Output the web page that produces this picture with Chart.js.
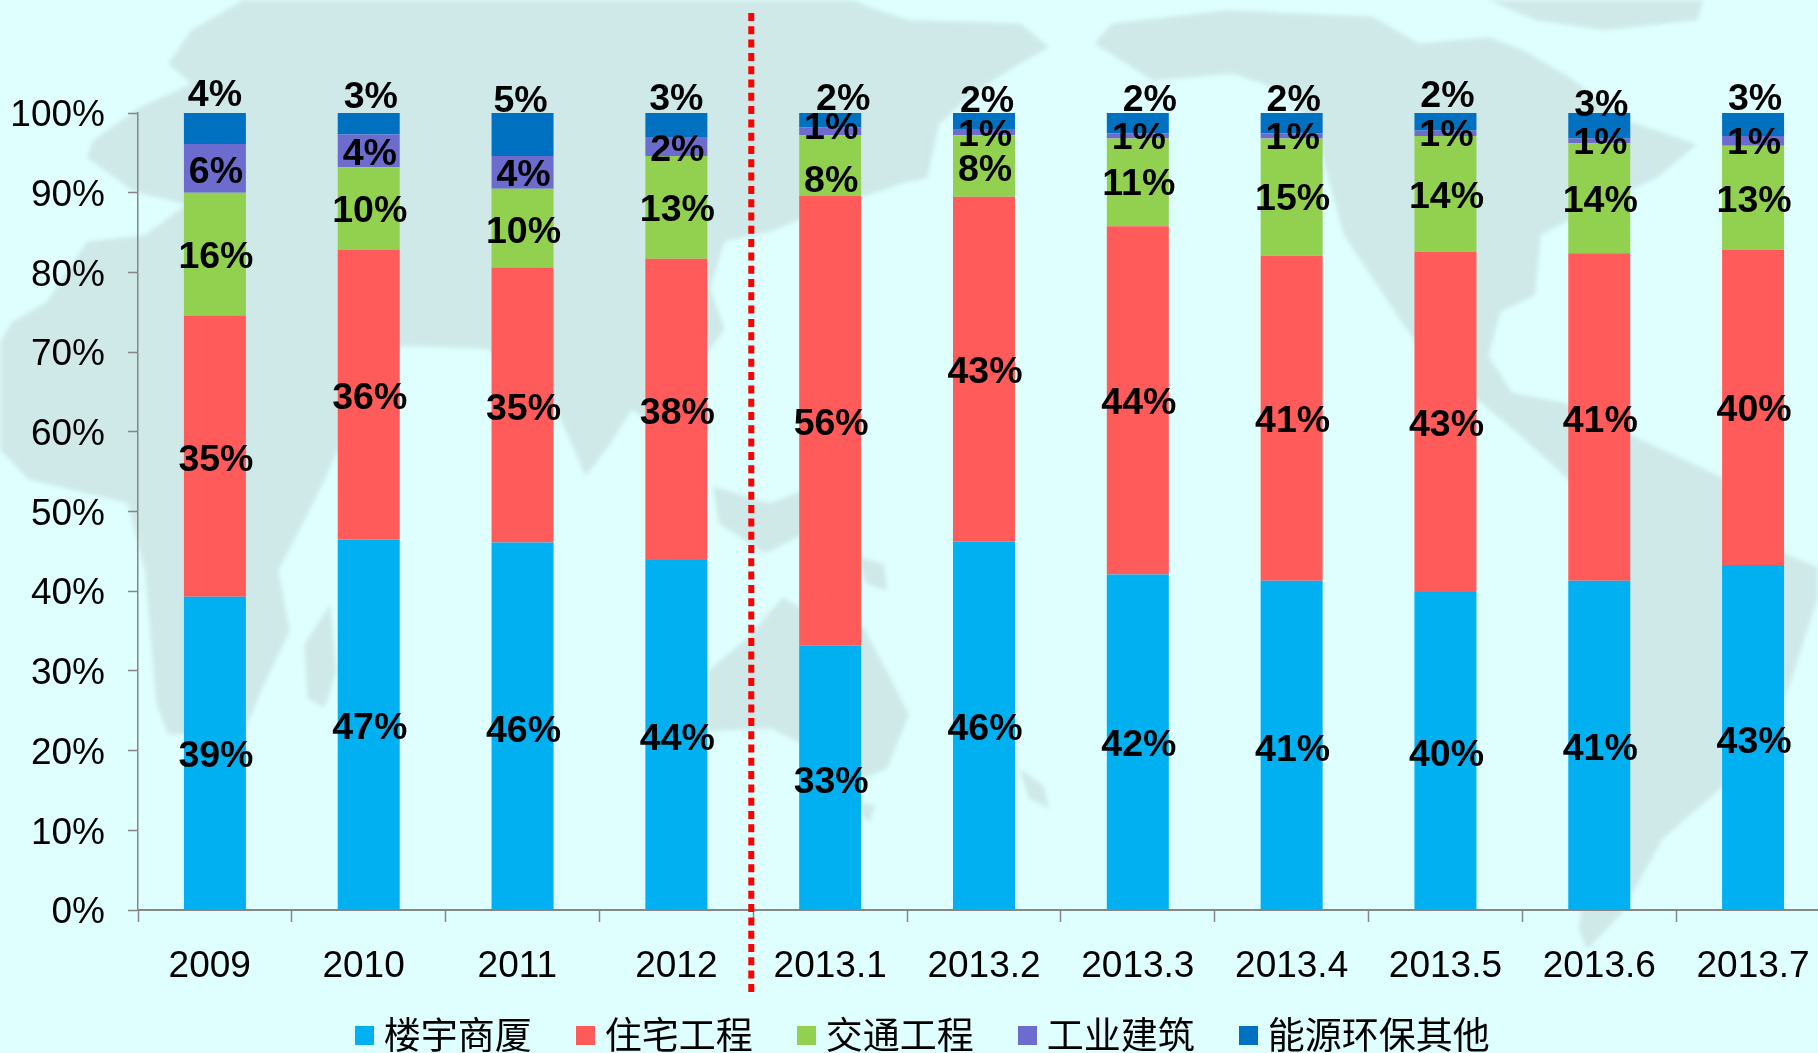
<!DOCTYPE html>
<html><head><meta charset="utf-8">
<style>html,body{margin:0;padding:0;width:1818px;height:1053px;overflow:hidden;background:#DFFFFF}canvas{display:block}</style>
<script src="https://cdn.jsdelivr.net/npm/chart.js@4/dist/chart.umd.min.js"></script>
</head><body><canvas id="c" width="1843" height="1088" style="width:1843px;height:1088px"></canvas>
<script>
const categories=['2009','2010','2011','2012','2013.1','2013.2','2013.3','2013.4','2013.5','2013.6','2013.7'];
const seriesNames=['楼宇商厦','住宅工程','交通工程','工业建筑','能源环保其他'];
const seriesColors=['#00B0F0','#FF5B5B','#92D050','#6C6BCE','#0070C0'];
const office=[39.3,46.5,46.1,43.9,33.2,46.2,42.1,41.3,39.9,41.3,43.3];
const housing=[35.3,36.3,34.5,37.8,56.4,43.3,43.7,40.8,42.7,41.1,39.5];
const transport=[15.4,10.4,9.9,12.9,7.6,7.7,11.0,14.7,14.5,13.8,13.1];
const industry=[6.1,4.1,4.1,2.3,1.0,0.8,0.65,0.65,0.7,0.6,1.2];
const energy=[3.9,2.7,5.4,3.1,1.8,2.0,2.55,2.55,2.2,3.2,2.9];
const seriesValues=[office,housing,transport,industry,energy];
// printed labels
const officeText=[39,47,46,44,33,46,42,41,40,41,43];
const housingText=[35,36,35,38,56,43,44,41,43,41,40];
const transportText=[16,10,10,13,8,8,11,15,14,14,13];
const industryText=[6,4,4,2,1,1,1,1,1,1,1];
const energyText=[4,3,5,3,2,2,2,2,2,3,3];
const labelTexts=[officeText,housingText,transportText,industryText,energyText];
// label anchors, in axis units (manually placed in the original)
const officeAt=[19.6,23.1,22.8,21.7,16.4,23.0,21.0,20.4,19.8,20.5,21.4];
const housingAt=[56.8,64.5,63.1,62.7,61.3,67.8,63.9,61.6,61.2,61.7,63.0];
const transportAt=[82.2,88.0,85.4,88.1,91.7,93.1,91.4,89.5,89.8,89.2,89.3];
const industryAt=[92.9,95.2,92.5,95.6,98.4,97.5,97.2,97.2,97.5,96.5,96.5];
const energyAt=[102.6,102.3,101.8,102.1,102.1,101.8,101.9,101.9,102.4,101.3,102.0];
const labelAnchors=[officeAt,housingAt,transportAt,industryAt,energyAt];
const energyNudge=[0,2,-2,0,13,3,12,2,2,2,2];

const U=(p)=>p.map(([x,y])=>[x/1.725,y/2.98]);
const R=1568;
const shift=(a)=>a.map(([x,y])=>[x+R,y]);
const mapShapes=[
 [[420,0],[330,90],[290,190],[330,250],[240,320],[160,420],[150,470],[230,570],[320,610],[250,700],[150,720],[80,900],[20,960],[0,1020],[0,1340],[50,1430],[220,1500],[250,1700],[260,1900],[270,2100],[290,2188],[420,2188],[450,2060],[500,1880],[480,1700],[520,1568],[560,1430],[620,1200],[690,1030],[840,1040],[950,1180],[1010,1420],[1050,1330],[1090,1220],[1150,1300],[1200,1400],[1225,1250],[1200,1100],[1250,980],[1225,860],[1250,720],[1330,690],[1400,640],[1568,540],[1600,530],[1620,370],[1670,290],[1750,200],[1810,140],[1760,70],[1600,60],[1568,60],[1500,20],[1470,0]],
 [[1565,380],[1590,370],[1595,470],[1580,540],[1565,500]],
 [[1230,1450],[1330,1500],[1400,1450],[1420,1560],[1320,1650],[1240,1560]],
 [[1480,1660],[1525,1680],[1530,1760],[1495,1740]],
 [[570,1800],[580,2000],[560,2110],[530,2080],[525,1920]],
 [[1220,2000],[1290,1900],[1350,1780],[1410,1840],[1490,1870],[1530,2000],[1568,2130],[1530,2290],[1490,2320],[1430,2260],[1330,2170],[1220,2180]],
 [[1480,2390],[1510,2400],[1500,2450],[1485,2430]],
 [[1758,2290],[1800,2340],[1810,2410],[1775,2380]],
 shift([[320,130],[350,70],[550,30],[800,50],[880,130],[1000,110],[1060,150],[1140,230],[1240,360],[1360,430],[1290,530],[1180,620],[1090,700],[1080,880],[1020,930],[1000,1060],[1040,1170],[1130,1200],[1250,1300],[1400,1420],[1510,1650],[1568,1690],[1568,1780],[1510,2090],[1400,2350],[1300,2500],[1230,2720],[1170,2830],[1155,2770],[1180,2500],[1180,1700],[1150,1450],[1050,1290],[1000,1220],[880,1030],[850,960],[750,700],[710,450],[660,280],[560,220],[420,240]]),
 shift([[1000,0],[1370,0],[1360,60],[1200,90],[1080,60]])
];

const backdrop={id:'backdrop',beforeDraw(c){
  const x=c.ctx;x.save();x.fillStyle='#DFFFFF';x.fillRect(0,0,c.width,c.height);
  x.fillStyle='#CFE9E9';x.filter='blur(2px)';
  for(const s of mapShapes){const p=U(s);x.beginPath();p.forEach(([a,b],i)=>i?x.lineTo(a,b):x.moveTo(a,b));x.closePath();x.fill();}
  x.restore();
}};
const segmentLabels={id:'segmentLabels',afterDatasetsDraw(c){
  const x=c.ctx,sx=c.scales.x,sy=c.scales.y;x.save();
  x.font='bold 37.5px "Liberation Sans"';x.fillStyle='#000';x.textAlign='center';x.textBaseline='middle';
  labelTexts.forEach((arr,s)=>arr.forEach((v,i)=>{
    const dx=s===4?energyNudge[i]:1;
    x.fillText(v+'%',sx.getPixelForValue(i)+dx,sy.getPixelForValue(labelAnchors[s][i])+3);
  }));
  x.restore();
}};
const divider={id:'divider',afterDraw(c){
  const x=c.ctx,px=c.scales.x.getPixelForValue(3.5)-2;x.save();
  x.strokeStyle='#FF0000';x.lineWidth=6;x.setLineDash([8,5.3]);
  x.beginPath();x.moveTo(px,13);x.lineTo(px,993);x.stroke();x.restore();
}};
const legendLift={id:'legendLift',afterLayout(c){const l=c.legend;l.top-=24.5;l.bottom-=24.5;l.left+=11.6;l.right+=11.6;}};

const swatch=(col)=>{const k=document.createElement('canvas');k.width=19;k.height=19;const g=k.getContext('2d');g.fillStyle=col;g.fillRect(0,0,19,19);return k;};
const xLabelPad=[1,1,1,0,0,0,0,0,0,0,0];

new Chart(document.getElementById('c'),{
 type:'bar',
 data:{labels:categories,datasets:seriesValues.map((d,i)=>({label:seriesNames[i],data:d,backgroundColor:seriesColors[i],borderWidth:0,barPercentage:0.403,categoryPercentage:1}))},
 options:{
  responsive:false,animation:false,
  layout:{padding:{top:113,right:13,left:0,bottom:0}},
  plugins:{tooltip:{enabled:false},title:{display:false},
   legend:{position:'bottom',labels:{usePointStyle:true,pointStyleWidth:2,padding:52.5,color:'#000',
     font:{family:'"Noto Sans CJK SC"',size:37},
     generateLabels(ch){return Chart.defaults.plugins.legend.labels.generateLabels(ch).map((l,i)=>Object.assign(l,{pointStyle:swatch(seriesColors[i])}));}}}},
  scales:{
   x:{stacked:true,afterFit(s){s.height=78.5;},
      border:{color:'#868686',width:2},
      grid:{drawOnChartArea:false,drawTicks:true,tickLength:12,color:'#868686',tickWidth:1.5,offset:true},
      ticks:{color:'#000',font:{family:'"Liberation Sans"',size:37},padding:23,maxRotation:0,autoSkip:false,
        callback(v,i){return categories[i]+' '.repeat(xLabelPad[i]);}}},
   y:{stacked:true,min:0,max:100,afterFit(s){s.width=138;},
      border:{color:'#868686',width:1.5},
      grid:{drawOnChartArea:false,tickLength:10,color:'#868686',tickWidth:1.5},
      ticks:{stepSize:10,color:'#000',font:{family:'"Liberation Sans"',size:37},padding:23,labelOffset:3,callback:v=>v+'%'}}
  }
 },
 plugins:[backdrop,segmentLabels,divider,legendLift]
});
</script></body></html>
